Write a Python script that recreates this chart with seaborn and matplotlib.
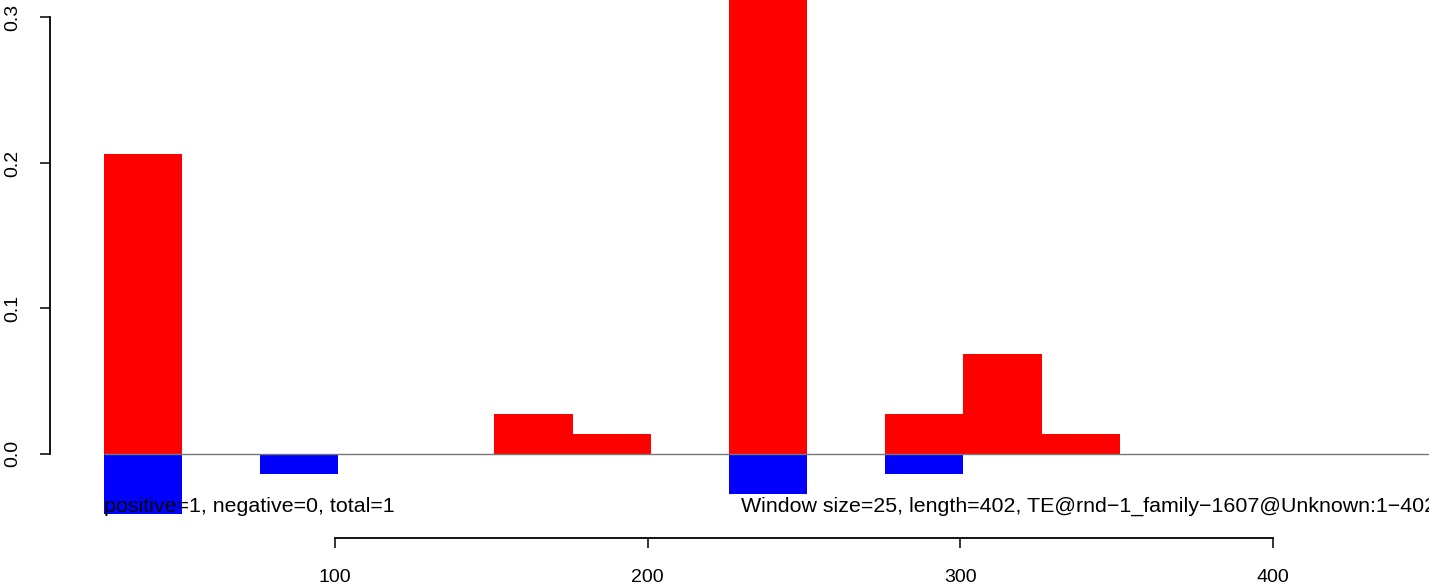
import numpy as np
import pandas as pd
import matplotlib
matplotlib.use("Agg")
import matplotlib.pyplot as plt
import seaborn as sns

# ---- data ----
window_start = [26, 51, 76, 101, 126, 151, 176, 201, 226, 251, 276, 301, 326, 351, 376]
positive = [0.206, 0, 0, 0, 0, 0.0275, 0.0138, 0, 0.36, 0, 0.0275, 0.0688, 0.0138, 0, 0]
negative = [-0.041, 0, -0.0138, 0, 0, 0, 0, 0, -0.0275, 0, -0.0138, 0, 0, 0, 0]
window_size = 25
x_ticks = [100, 200, 300, 400]
y_ticks = [0.0, 0.1, 0.2, 0.3]
left_note = "positive=1, negative=0, total=1"
right_note = "Window size=25, length=402, TE@rnd\u22121_family\u22121607@Unknown:1\u2212402"

df = pd.DataFrame({
    "start": window_start,
    "center": np.array(window_start) + window_size / 2,
    "positive": positive,
    "negative": negative,
})
edges = list(window_start) + [window_start[-1] + window_size]

sns.set_style("white")
plt.rcParams["font.family"] = ["Liberation Sans", "DejaVu Sans"]
plt.rcParams["text.color"] = "black"
plt.rcParams["xtick.color"] = "black"
plt.rcParams["ytick.color"] = "black"

fig = plt.figure(figsize=(14.29, 5.85), dpi=100)
ax = fig.add_axes([50 / 1429, 47 / 585, 1 - 50 / 1429, 1 - 47 / 585])

sns.histplot(data=df, x="center", weights="positive", bins=edges, color="#ff0000",
             alpha=1, linewidth=0, edgecolor="none", ax=ax)
sns.histplot(data=df, x="center", weights="negative", bins=edges, color="#0000ff",
             alpha=1, linewidth=0, edgecolor="none", ax=ax)

ax.hlines(0, window_start[0], 460, color="#777777", linewidth=1.0, zorder=3)

ax.set_xlim(8.85, 449.9)
ax.set_ylim(-0.0578, 0.312)

ax.set_xlabel("")
ax.set_ylabel("")
ax.set_xticks(x_ticks)
ax.set_xticklabels([str(v) for v in x_ticks], fontsize=14, color="black")
ax.set_yticks(y_ticks)
ax.set_yticklabels([f"{v:.1f}" for v in y_ticks], fontsize=14, rotation=90, va="center",
                   color="black")

for s in ["top", "right"]:
    ax.spines[s].set_visible(False)
ax.spines["bottom"].set_bounds(x_ticks[0], x_ticks[-1])
ax.spines["left"].set_bounds(y_ticks[0], y_ticks[-1])
for s in ["bottom", "left"]:
    ax.spines[s].set_linewidth(1.3)
    ax.spines[s].set_color("black")
ax.tick_params(axis="x", length=7.5, width=1.1, pad=15, color="black", bottom=True)
ax.tick_params(axis="y", length=7.5, width=1.1, pad=13, color="black", left=True)

ax.text(window_start[0], -0.0399, left_note, fontsize=15.4, ha="left", va="baseline",
        color="black")
ax.text(229.7, -0.0399, right_note, fontsize=15.4, ha="left", va="baseline",
        color="black", clip_on=False)

fig.savefig("out.png", dpi=100)
